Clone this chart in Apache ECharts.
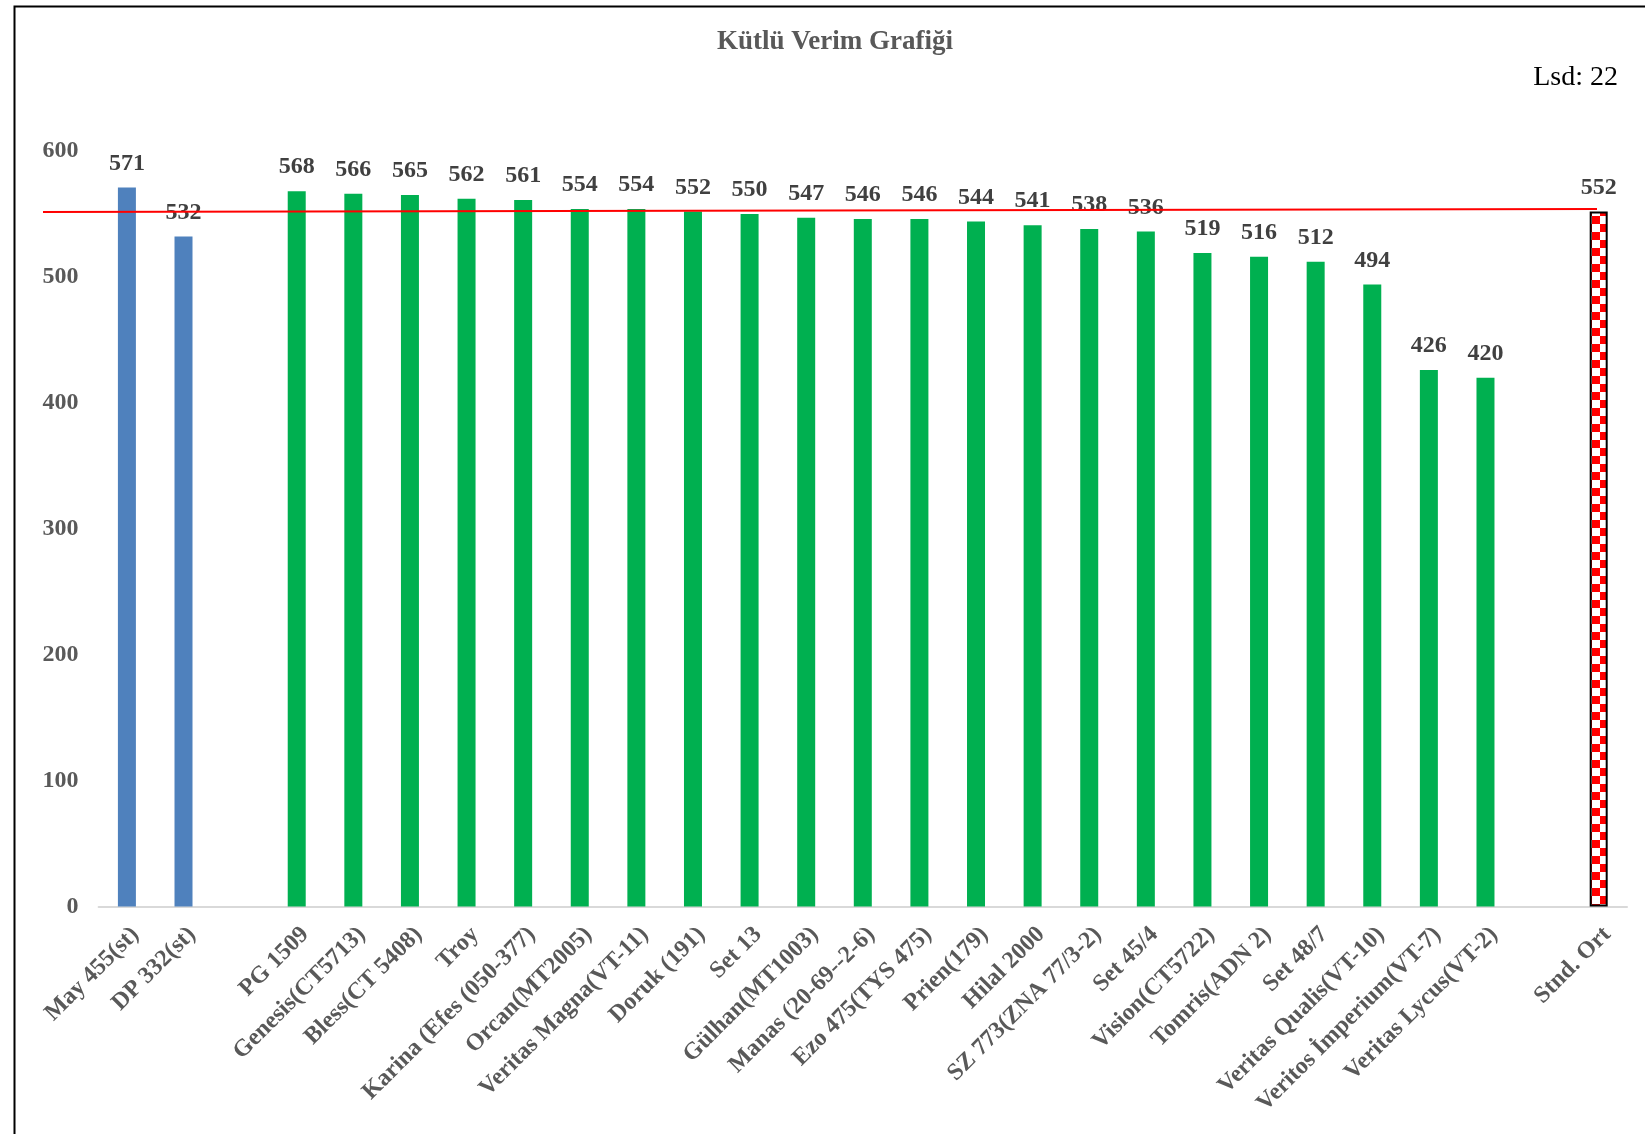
<!DOCTYPE html>
<html><head><meta charset="utf-8">
<script src="https://cdn.jsdelivr.net/npm/echarts@6/dist/echarts.min.js"></script>
<style>html,body{margin:0;padding:0;background:#fff}#c{width:1645px;height:1134px}</style>
</head><body><div id="c"></div>
<script>
const chartTitle = 'Kütlü Verim Grafiği';
const lsdText = 'Lsd: 22';
const standardNames = ['May 455(st)', 'DP 332(st)'];
const standardValues = [571, 532];
const varietyNames = ['PG 1509','Genesis(CT5713)','Bless(CT 5408)','Troy','Karina (Efes (050-377)','Orcan(MT2005)','Veritas Magna(VT-11)','Doruk (191)','Set 13','Gülhan(MT1003)','Manas (20-69--2-6)','Ezo 475(TYS 475)','Prien(179)','Hilal 2000','SZ 773(ZNA 77/3-2)','Set 45/4','Vision(CT5722)','Tomris(ADN 2)','Set 48/7','Veritas Qualis(VT-10)','Veritos İmperium(VT-7)','Veritas Lycus(VT-2)'];
const varietyValues = [568,566,565,562,561,554,554,552,550,547,546,546,544,541,538,536,519,516,512,494,426,420];
const meanName = 'Stnd. Ort';
const meanValue = 552;
const meanLineEnds = [551.6, 554.0];
const yMin = 0, yMax = 600, yStep = 100;

const FONT = "'Liberation Serif','Times New Roman',serif";
const BLUE = '#4F81BD', GREEN = '#00B050';

// checker pattern
const pc = document.createElement('canvas');
pc.width = 16; pc.height = 16;
const g = pc.getContext('2d');
g.fillStyle = '#fff'; g.fillRect(0,0,16,16);
g.fillStyle = '#FF0000'; g.fillRect(0,0,8,8); g.fillRect(8,8,8,8);

const categories = [...standardNames, ' ', ...varietyNames, '  ', meanName];
const barData = [
  ...standardValues.map(v => ({value: v, itemStyle: {color: BLUE}})),
  '-',
  ...varietyValues.map(v => ({value: v, itemStyle: {color: GREEN}})),
  '-',
  {value: meanValue, itemStyle: {color: {image: pc, repeat: 'repeat'}, borderColor: '#000', borderWidth: 2}}
];

const chart = echarts.init(document.getElementById('c'), null, {renderer: 'canvas'});
chart.setOption({
  animation: false,
  backgroundColor: '#fff',
  graphic: [
    {type: 'rect', left: 12, top: 4, shape: {x: 0, y: 0, width: 1700, height: 1200}, style: {fill: 'none', stroke: '#000', lineWidth: 2}, silent: true},
    {type: 'text', x: 835, y: 42, style: {text: chartTitle, align: 'center', verticalAlign: 'middle', font: 'bold 27px ' + FONT, fill: '#595959'}},
    {type: 'text', x: 1618, y: 78, style: {text: lsdText, align: 'right', verticalAlign: 'middle', font: '28px ' + FONT, fill: '#000'}}
  ],
  grid: [
    {left: 98.6, right: 18, top: 151, bottom: 227.5, containLabel: false},
    {left: 43, right: 48, top: 151, bottom: 227.5, containLabel: false}
  ],
  xAxis: [
    {type: 'category', gridIndex: 0, data: categories,
     axisLine: {lineStyle: {color: '#D9D9D9', width: 2}}, axisTick: {show: false},
     axisLabel: {interval: 0, rotate: 45, margin: 16, color: '#595959', fontFamily: FONT, fontWeight: 'bold', fontSize: 24, verticalAlign: 'top'}},
    {type: 'value', gridIndex: 1, min: 0, max: 1, show: false}
  ],
  yAxis: [
    {type: 'value', gridIndex: 0, min: yMin, max: yMax, interval: yStep,
     axisLine: {show: false}, axisTick: {show: false}, splitLine: {show: false},
     axisLabel: {margin: 20, color: '#595959', fontFamily: FONT, fontWeight: 'bold', fontSize: 24}},
    {type: 'value', gridIndex: 1, min: yMin, max: yMax, show: false}
  ],
  series: [
    {type: 'bar', xAxisIndex: 0, yAxisIndex: 0, barWidth: 18, data: barData, z: 2,
     label: {show: true, position: 'top', distance: 12, color: '#404040', fontFamily: FONT, fontWeight: 'bold', fontSize: 24}},
    {type: 'line', xAxisIndex: 1, yAxisIndex: 1, data: [[0, meanLineEnds[0]], [1, meanLineEnds[1]]],
     symbol: 'none', lineStyle: {color: '#FF0000', width: 2}, z: 5, silent: true}
  ]
});
</script></body></html>
